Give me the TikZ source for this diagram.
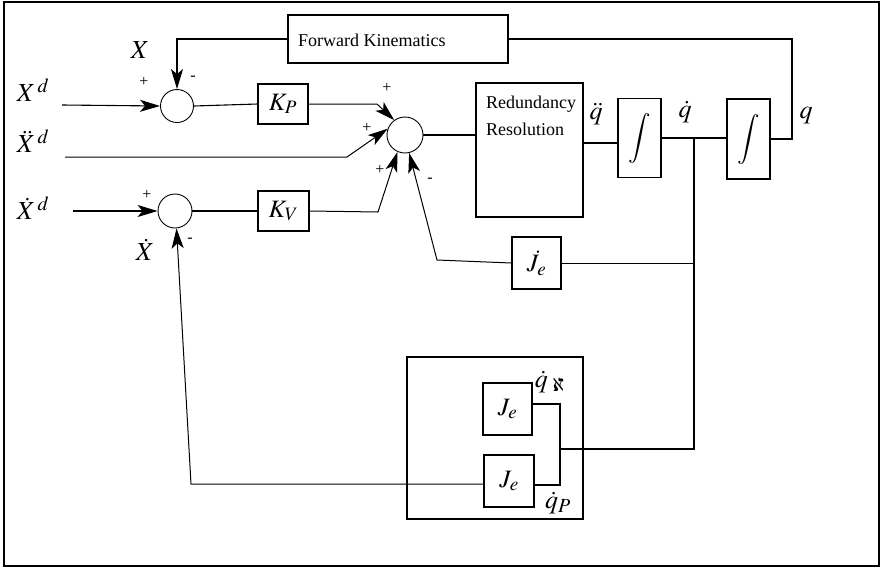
\documentclass[tikz,border=0pt]{standalone}
\usepackage{mathptmx}
\usepackage{fontspec}
\setmainfont{Liberation Serif}
\usetikzlibrary{arrows.meta,calc}
\DeclareMathSizes{25}{25}{19}{15}
\DeclareMathSizes{26}{26}{20}{16}
\begin{document}
\begin{tikzpicture}[x=1pt,y=-1pt,
  box/.style={draw,line width=1.3pt,inner sep=0pt,font=\fontsize{25}{28}\selectfont},
  sumnode/.style={draw,circle,line width=0.9pt,inner sep=0pt},
  wire/.style={line width=1.1pt},
  thinwire/.style={line width=1pt},
  arr/.style={-{Stealth[length=20pt,width=12pt,inset=5pt]}},
  lbl/.style={font=\fontsize{26}{28}\selectfont,inner sep=0pt},
  sgn/.style={font=\fontsize{16}{18}\selectfont,inner sep=0pt},
  txt/.style={font=\fontsize{18}{27}\selectfont,inner sep=0pt}]
\useasboundingbox (0,0) rectangle (881,568);
\node[draw,line width=1.5pt,minimum width=875pt,minimum height=564pt,inner sep=0pt] (frame) at (441.5,284) {};

% blocks
\node[box,minimum width=220pt,minimum height=48pt] (fk) at (398,39) {};
\node[txt,anchor=west] (fkt) at (298,40) {Forward Kinematics};
\node[sumnode,minimum size=33pt] (s1) at (177,106) {};
\node[box,minimum width=50pt,minimum height=40pt] (kp) at (283,104) {$K_P$};
\node[sumnode,minimum size=36pt] (s2) at (405,135) {};
\node[sumnode,minimum size=34pt] (s3) at (175,211) {};
\node[box,minimum width=51pt,minimum height=40pt] (kv) at (283.5,211) {$K_V$};
\node[box,minimum width=107pt,minimum height=134pt] (rr) at (529.5,150) {};
\node[txt,anchor=north west,align=left] (rrt) at (486,96) {Redundancy\\Resolution};
\node[box,minimum width=43pt,minimum height=79pt] (i1) at (639.5,138) {$\displaystyle\int$};
\node[box,minimum width=43pt,minimum height=80pt] (i2) at (748.5,139) {$\displaystyle\int$};
\node[box,minimum width=49pt,minimum height=52pt] (jd) at (536.5,263) {$\dot J_e$};
\node[box,minimum width=176pt,minimum height=162pt] (jb) at (495,438) {};
\node[box,minimum width=49pt,minimum height=52pt] (je1) at (507.5,409) {$J_e$};
\node[box,minimum width=50pt,minimum height=52pt] (je2) at (509,481) {$J_e$};

% free ends and bends
\coordinate (xd) at (62,105);
\coordinate (xdd) at (65,157);
\coordinate (xdotd) at (73,211);
\coordinate (kpb) at (377,104);
\coordinate (xddb) at (347,157);
\coordinate (kvb) at (378,212);
\coordinate (jdb) at (437,260);
\coordinate (qdl) at (600,143);
\coordinate (j1) at (694,138);
\coordinate (j2) at (694,449);
\coordinate (jc) at (560,449);
\coordinate (jt) at (560,404);
\coordinate (jbm) at (560,485);
\coordinate (qc) at (792,138);
\coordinate (fb) at (191,484);

% connectors
\draw[wire,arr] (fk.west) -| (s1.north);
\draw[wire,arr] (xd) -- (s1.west);
\draw[wire] (s1.east) -- (kp.west);
\draw[thinwire,arr] (kp.east) -- (kpb) -- (s2.126);
\draw[thinwire,arr] (xdd) -- (xddb) -- (s2.160);
\draw[wire,arr] (xdotd) -- (s3.west);
\draw[wire] (s3.east) -- (kv.west);
\draw[thinwire,arr] (kv.east) -- (kvb) -- (s2.246);
\draw[thinwire,arr] (jd.west) -- (jdb) -- (s2.283);
\draw[wire] (s2.east) -- (s2.east -| rr.west);
\draw[wire] (rr.east |- qdl) -- (i1.west |- qdl);
\draw[wire] (i1.east) -- (i1.east -| i2.west);
\draw[wire] (j1) -- (j2) -- (jc);
\draw[thinwire] (jd.east) -- (jd.east -| j1);
\draw[wire] (i2.east) -- (i2.east -| qc) |- (fk.east);
\draw[wire] (je1.east |- jt) -- (jt) -- (jbm) -- (je2.east |- jbm);
\draw[thinwire,arr] (je2.west |- fb) -- (fb) -- (s3.275);

% labels
\node[lbl] (lx) at (140,50) {$X$};
\node[lbl] (lxd) at (33,90) {$X^{\,d}$};
\node[lbl] (lxdd) at (33,141) {$\ddot X^{\,d}$};
\node[lbl] (lxdotd) at (33,208) {$\dot X^{\,d}$};
\node[lbl] (lxdot) at (145,250) {$\dot X$};
\node[lbl] (lqdd) at (596,114) {$\ddot q$};
\node[lbl] (lqd) at (685,112) {$\dot q$};
\node[lbl] (lq) at (806,116) {$q$};
\node[lbl] (lqa) at (551,382) {$\dot q_{\,\aleph}$};
\node[lbl] (lqp) at (558,503) {$\dot q_P$};

% signs
\node[sgn] (p1) at (144,82) {+};
\node[sgn] (m1) at (193,78) {-};
\node[sgn] (p2) at (387,88) {+};
\node[sgn] (p3) at (367,128) {+};
\node[sgn] (p4) at (380,170) {+};
\node[sgn] (m2) at (430,180) {-};
\node[sgn] (p5) at (147,195) {+};
\node[sgn] (m3) at (190,240) {-};
\end{tikzpicture}
\end{document}
